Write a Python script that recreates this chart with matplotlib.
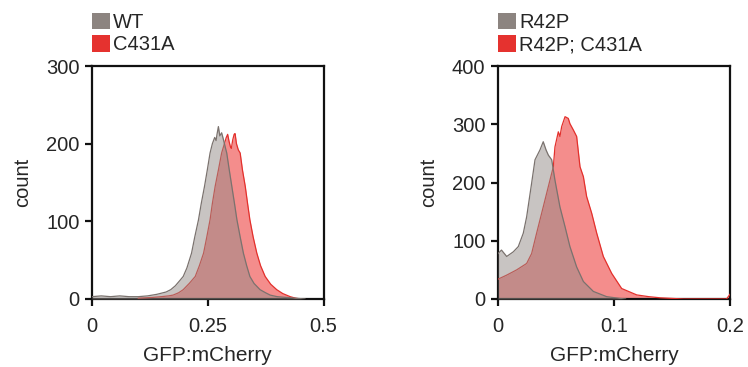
import matplotlib
matplotlib.use("Agg")
import matplotlib.pyplot as plt
from matplotlib.patches import Patch

plt.rcParams['font.family'] = ['Liberation Sans', 'DejaVu Sans']

# ---------------- data ----------------
# left panel
wt_x = [0.00, 0.02, 0.04, 0.06, 0.08, 0.10, 0.12, 0.14, 0.16, 0.17, 0.18, 0.19, 0.197,
        0.205, 0.215, 0.222, 0.230, 0.236, 0.243, 0.249, 0.255, 0.260, 0.265, 0.268,
        0.270, 0.273, 0.276, 0.280, 0.284, 0.288, 0.291, 0.296, 0.302, 0.308, 0.313,
        0.320, 0.327, 0.334, 0.341, 0.350, 0.363, 0.375, 0.385, 0.400, 0.420, 0.440, 0.460]
wt_y = [3, 4, 3, 4, 3, 3, 4, 6, 9, 12, 17, 24, 29,
        40, 59, 80, 102, 123, 145, 166, 188, 200, 208, 204,
        212, 222, 210, 214, 205, 195, 188, 168, 145, 122, 102,
        80, 59, 43, 29, 20, 12, 8, 5, 3, 2, 1, 0]

c431a_x = [0.10, 0.13, 0.15, 0.165, 0.175, 0.187, 0.197, 0.210, 0.223, 0.232, 0.241,
           0.248, 0.255, 0.260, 0.266, 0.273, 0.280, 0.286, 0.290, 0.293, 0.296, 0.299,
           0.301, 0.304, 0.307, 0.309, 0.312, 0.316, 0.320, 0.325, 0.331, 0.336, 0.341,
           0.348, 0.356, 0.364, 0.374, 0.386, 0.399, 0.412, 0.428, 0.440, 0.450]
c431a_y = [1, 2, 3, 4, 5, 8, 12, 20, 29, 43, 59,
           80, 102, 123, 145, 166, 188, 200, 208, 212, 203, 196,
           194, 205, 212, 213, 200, 192, 188, 166, 145, 123, 102,
           80, 59, 43, 29, 19, 12, 7, 3, 1, 0]

# right panel
r42p_x = [0.000, 0.003, 0.0075, 0.0132, 0.0175, 0.0218, 0.0247, 0.029, 0.0319, 0.0362,
          0.039, 0.0414, 0.0434, 0.0463, 0.0491, 0.0534, 0.0578, 0.062, 0.0678, 0.0736,
          0.0822, 0.0937, 0.105, 0.110]
r42p_y = [78, 84, 73, 81, 90, 113, 141, 199, 239, 256,
          270, 256, 247, 239, 204, 158, 124, 90, 55, 30,
          13, 4, 1, 0]

r42p_c431a_x = [0.000, 0.0075, 0.0161, 0.0247, 0.029, 0.0333, 0.039, 0.0434, 0.0477,
                0.0491, 0.052, 0.0534, 0.0549, 0.0578, 0.0606, 0.062, 0.065, 0.0678,
                0.0707, 0.0736, 0.0764, 0.0808, 0.0851, 0.0908, 0.098, 0.1066, 0.1196,
                0.130, 0.140, 0.150, 0.160, 0.197, 0.200]
r42p_c431a_y = [34, 41, 50, 61, 78, 113, 158, 193, 227,
                261, 287, 279, 296, 313, 310, 301, 290, 279,
                227, 210, 176, 147, 113, 73, 44, 18, 7,
                4, 2, 1, 0, 0, 8]

left_labels = ["WT", "C431A"]
right_labels = ["R42P", "R42P; C431A"]
left_xticks = [0, 0.25, 0.5]
left_xticklabels = ["0", "0.25", "0.5"]
left_yticks = [0, 100, 200, 300]
right_xticks = [0, 0.1, 0.2]
right_xticklabels = ["0", "0.1", "0.2"]
right_yticks = [0, 100, 200, 300, 400]

# ---------------- style ----------------
GRAY = "#8c8480"
RED = "#e5322f"
GRAY_EDGE = "#7a726e"
RED_EDGE = "#e3302c"
TXT = "#262626"
FS = 14.5

W, H = 748, 367
fig = plt.figure(figsize=(W / 100, H / 100), dpi=100)

def axes_px(l, r, t, b):
    return fig.add_axes([l / W, 1 - b / H, (r - l) / W, (b - t) / H])

ax1 = axes_px(92, 323.5, 66, 299)
ax2 = axes_px(498, 730, 66, 299)

def draw(ax, gx, gy, rx, ry, labels, xticks, xticklabels, yticks, xmax, ymax):
    ax.fill_between(rx, ry, 0, color="#ef5350", alpha=0.66, lw=0, zorder=2)
    ax.plot(rx, ry, color=RED_EDGE, lw=0.9, zorder=3)
    ax.fill_between(gx, gy, 0, color="#938b87", alpha=0.5, lw=0, zorder=4)
    ax.plot(gx, gy, color=GRAY_EDGE, lw=0.9, zorder=5)
    ax.set_xlim(0, xmax)
    ax.set_ylim(0, ymax)
    ax.set_xticks(xticks)
    ax.set_xticklabels(xticklabels)
    ax.set_yticks(yticks)
    for s in ax.spines.values():
        s.set_linewidth(1.6)
        s.set_color("#111111")
        s.set_visible(True)
    ax.tick_params(direction="out", length=5, width=1.6, color="#111111",
                   labelsize=FS, labelcolor=TXT, pad=4)
    ax.tick_params(axis="x", pad=8)
    ax.set_xlabel("GFP:mCherry", fontsize=15, color=TXT, labelpad=7)
    ax.set_ylabel("count", fontsize=FS, color=TXT, labelpad=10)
    handles = [Patch(facecolor=GRAY, edgecolor="none"),
               Patch(facecolor=RED, edgecolor="none")]
    ax.legend(handles, labels, loc="lower left", bbox_to_anchor=(0, 1.05),
              frameon=False, fontsize=FS, handlelength=0.9, handleheight=0.9,
              handletextpad=0.15, labelspacing=0.15, borderpad=0, borderaxespad=0,
              labelcolor=TXT)

draw(ax1, wt_x, wt_y, c431a_x, c431a_y, left_labels, left_xticks, left_xticklabels,
     left_yticks, 0.5, 300)
draw(ax2, r42p_x, r42p_y, r42p_c431a_x, r42p_c431a_y, right_labels, right_xticks,
     right_xticklabels, right_yticks, 0.2, 400)

fig.savefig("out.png", dpi=100)
